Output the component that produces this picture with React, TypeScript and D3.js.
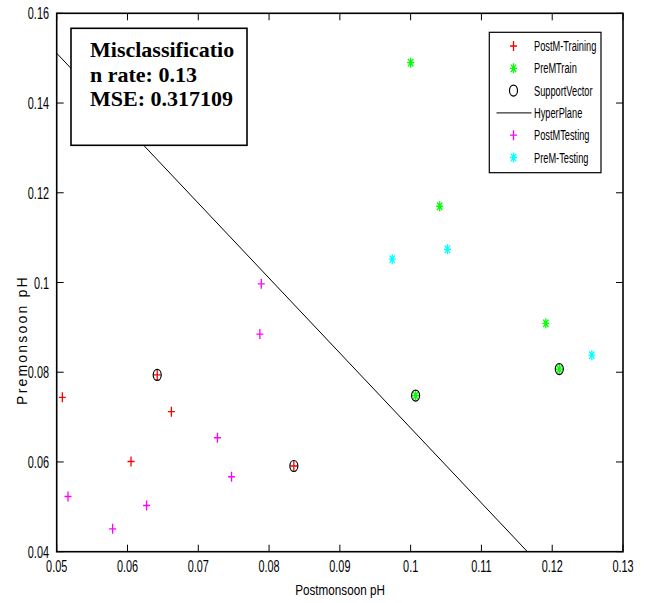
import React from "react";
import * as d3 from "d3";

// data
const postTrainX = [0.0508, 0.0642, 0.0662, 0.0605, 0.0835];
const postTrainY = [0.0744, 0.0794, 0.0712, 0.0601, 0.0591];

const preTrainX = [0.1, 0.1041, 0.1191, 0.121, 0.1007];
const preTrainY = [0.149, 0.117, 0.0909, 0.0807, 0.0748];

const postTestX = [0.0516, 0.0579, 0.0627, 0.0727, 0.0747, 0.0787, 0.0789];
const postTestY = [0.0523, 0.0451, 0.0503, 0.0654, 0.0567, 0.0885, 0.0997];

const preTestX = [0.0974, 0.1052, 0.1256];
const preTestY = [0.1052, 0.1074, 0.0838];

const supportX = [0.0642, 0.0835, 0.1007, 0.121];
const supportY = [0.0794, 0.0591, 0.0748, 0.0807];

const hyperX = [0.05, 0.1165];
const hyperY = [0.1511, 0.04];

const xTicks = [0.05, 0.06, 0.07, 0.08, 0.09, 0.1, 0.11, 0.12, 0.13];
const xTickLabels = ["0.05", "0.06", "0.07", "0.08", "0.09", "0.1", "0.11", "0.12", "0.13"];
const yTicks = [0.04, 0.06, 0.08, 0.1, 0.12, 0.14, 0.16];
const yTickLabels = ["0.04", "0.06", "0.08", "0.1", "0.12", "0.14", "0.16"];

const legendNames = ["PostM-Training", "PreMTrain", "SupportVector", "HyperPlane", "PostMTesting", "PreM-Testing"];
const boxLines = ["Misclassificatio", "n rate: 0.13", "MSE: 0.317109"];

const W = 647;
const H = 603;
const left = 56.7, right = 623, top = 13.3, bottom = 551.7;

const x = d3.scaleLinear().domain([0.05, 0.13]).range([left, right]);
const y = d3.scaleLinear().domain([0.04, 0.16]).range([bottom, top]);

const plusPath = "M-3.5,0H3.5M0,-5V5";
const starPath = "M-3.5,0H3.5M0,-5V5M-2.6,-3.8L2.6,3.8M-2.6,3.8L2.6,-3.8";

const sans = "Arial, 'Liberation Sans', Helvetica, sans-serif";

function Marker({ kind, color, cx, cy }: { kind: string; color: string; cx: number; cy: number }) {
  if (kind === "circle")
    return <ellipse cx={cx} cy={cy} rx={4} ry={5.5} fill="none" stroke="#000" strokeWidth={1.2} />;
  if (kind === "line")
    return <line x1={cx - 17} x2={cx + 18} y1={cy} y2={cy} stroke="#000" strokeWidth={1} />;
  return (
    <path d={kind === "plus" ? plusPath : starPath} transform={`translate(${cx},${cy})`}
      stroke={color} strokeWidth={1.3} fill="none" />
  );
}

export default function App() {
  const line = d3.line<number>().x((d) => x(d)).y((_, i) => y(hyperY[i]));
  const series = [
    { xs: postTrainX, ys: postTrainY, kind: "plus", color: "#ff0000" },
    { xs: preTrainX, ys: preTrainY, kind: "star", color: "#00ff00" },
    { xs: postTestX, ys: postTestY, kind: "plus", color: "#ff00ff" },
    { xs: preTestX, ys: preTestY, kind: "star", color: "#00ffff" },
  ];
  const legendKinds = [
    { kind: "plus", color: "#ff0000" },
    { kind: "star", color: "#00ff00" },
    { kind: "circle", color: "#000" },
    { kind: "line", color: "#000" },
    { kind: "plus", color: "#ff00ff" },
    { kind: "star", color: "#00ffff" },
  ];
  const tickLen = 7;

  return (
    <svg width={W} height={H} style={{ position: "absolute", left: 0, top: 0, background: "#fff" }}>
      <rect x={0} y={0} width={W} height={H} fill="#fff" />

      {/* hyperplane */}
      <path d={line(hyperX) || ""} fill="none" stroke="#000" strokeWidth={1} />

      {/* points */}
      {series.map((s, si) =>
        s.xs.map((v, i) => <Marker key={`${si}-${i}`} kind={s.kind} color={s.color} cx={x(v)} cy={y(s.ys[i])} />)
      )}
      {supportX.map((v, i) => (
        <Marker key={`sv-${i}`} kind="circle" color="#000" cx={x(v)} cy={y(supportY[i])} />
      ))}

      {/* axes box and ticks */}
      <rect x={left} y={top} width={right - left} height={bottom - top} fill="none" stroke="#000" strokeWidth={1.6} />
      {xTicks.map((t, i) => (
        <g key={`xt-${i}`}>
          <line x1={x(t)} x2={x(t)} y1={bottom} y2={bottom - tickLen} stroke="#000" />
          <line x1={x(t)} x2={x(t)} y1={top} y2={top + tickLen} stroke="#000" />
          <text transform={`translate(${x(t)},572) scale(0.68,1)`} textAnchor="middle"
            fontFamily={sans} fontSize={16}>{xTickLabels[i]}</text>
        </g>
      ))}
      {yTicks.map((t, i) => (
        <g key={`yt-${i}`}>
          <line x1={left} x2={left + tickLen} y1={y(t)} y2={y(t)} stroke="#000" />
          <line x1={right} x2={right - tickLen} y1={y(t)} y2={y(t)} stroke="#000" />
          <text transform={`translate(49,${y(t) + 6}) scale(0.68,1)`} textAnchor="end"
            fontFamily={sans} fontSize={16}>{yTickLabels[i]}</text>
        </g>
      ))}

      {/* axis labels */}
      <text transform="translate(340,595) scale(0.78,1)" textAnchor="middle" fontFamily={sans} fontSize={15}>
        Postmonsoon pH
      </text>
      <text transform="translate(27,340) rotate(-90)" textAnchor="middle" fontFamily={sans} fontSize={14}
        letterSpacing={2.2}>
        Premonsoon pH
      </text>

      {/* text box */}
      <rect x={71} y={28.3} width={176} height={117} fill="#fff" stroke="#000" strokeWidth={1.6} />
      {boxLines.map((s, i) => (
        <text key={`bl-${i}`} x={90} y={57.3 + i * 24.5} fontFamily="'Times New Roman', 'Liberation Serif', serif"
          fontWeight="bold" fontSize={22}>{s}</text>
      ))}

      {/* legend */}
      <rect x={489.3} y={32.3} width={111.7} height={140.4} fill="#fff" stroke="#000" strokeWidth={1.2} />
      {legendNames.map((name, i) => {
        const ry = 46 + i * 22.3;
        return (
          <g key={`lg-${i}`}>
            <Marker kind={legendKinds[i].kind} color={legendKinds[i].color} cx={513.5} cy={ry} />
            <text transform={`translate(534,${ry + 5}) scale(0.66,1)`} fontFamily={sans} fontSize={14}>{name}</text>
          </g>
        );
      })}
    </svg>
  );
}
